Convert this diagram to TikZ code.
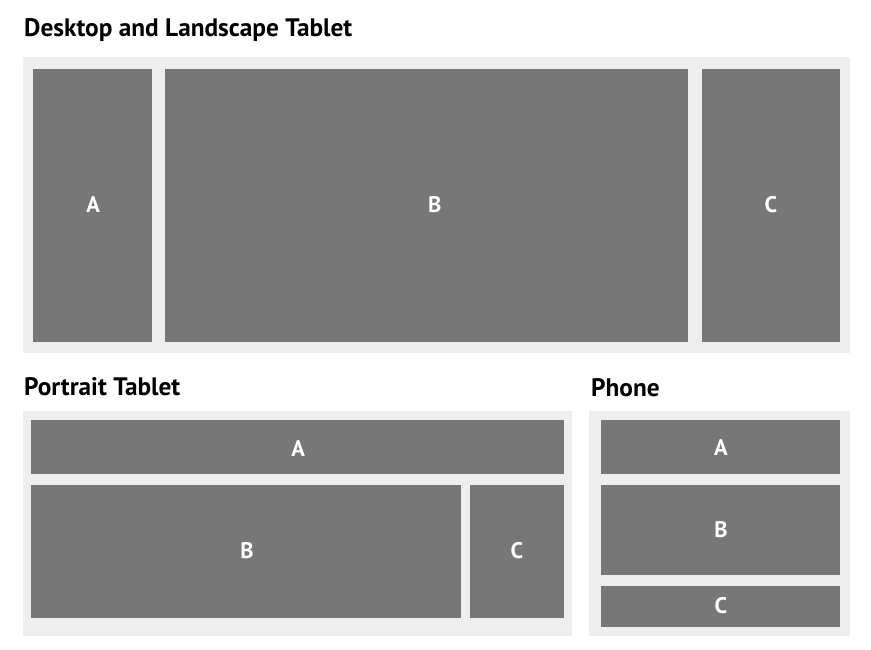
\documentclass[tikz,border=0pt]{standalone}
\usepackage{fontspec}
\setmainfont{PT Sans}
\definecolor{panelgray}{HTML}{EEEEEE}
\definecolor{boxgray}{HTML}{777777}
\begin{document}
\begin{tikzpicture}[x=1pt,y=-1pt,
  panel/.style={fill=panelgray},
  box/.style={fill=boxgray},
  lbl/.style={text=white,font=\bfseries\fontsize{22.5}{26}\selectfont,inner sep=0pt},
  ttl/.style={anchor=base west,inner sep=0pt,font=\bfseries\fontsize{25.3}{29}\selectfont}]
\useasboundingbox (0,0) rectangle (871,650);
% titles
\node[ttl] (t1) at (24,36.5) {Desktop and Landscape Tablet};
\node[ttl] (t2) at (24,395.5) {Portrait Tablet};
\node[ttl] (t3) at (591,396) {Phone};
% desktop
\fill[panel] (23,57) rectangle (850,353);
\fill[box] (33,69) rectangle (152,342);
\fill[box] (165,69) rectangle (688,342);
\fill[box] (702,69) rectangle (840,342);
\node[lbl] (dA) at (93.3,205) {A};
\node[lbl] (dB) at (434.7,205) {B};
\node[lbl] (dC) at (771,205) {C};
% portrait
\fill[panel] (23,411) rectangle (572,636);
\fill[box] (31,420) rectangle (564,474);
\fill[box] (31,484.5) rectangle (461,618);
\fill[box] (470,484.5) rectangle (564,618);
\node[lbl] (pA) at (298.3,449) {A};
\node[lbl] (pB) at (247,550.5) {B};
\node[lbl] (pC) at (517,551) {C};
% phone
\fill[panel] (589,411) rectangle (850,636);
\fill[box] (601,420) rectangle (840,474);
\fill[box] (601,485) rectangle (840,575);
\fill[box] (601,586) rectangle (840,627);
\node[lbl] (fA) at (721,448) {A};
\node[lbl] (fB) at (721,530) {B};
\node[lbl] (fC) at (721,606) {C};
\end{tikzpicture}
\end{document}
